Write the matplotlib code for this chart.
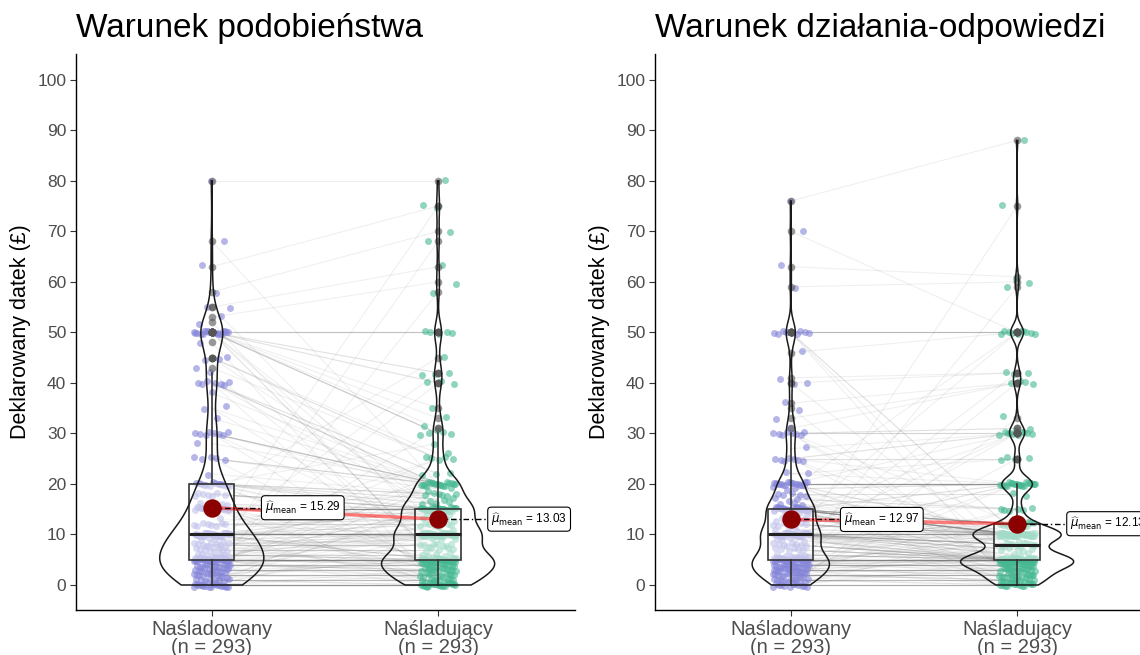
import numpy as np
import matplotlib
matplotlib.use("Agg")
import matplotlib.pyplot as plt
from matplotlib.collections import LineCollection

plt.rcParams['font.family'] = ['Liberation Sans', 'DejaVu Sans']

titles = ["Warunek podobieństwa", "Warunek działania-odpowiedzi"]
groups = ["Naśladowany", "Naśladujący"]
n_text = "(n = 293)"
y_label = "Deklarowany datek (£)"

# declared donations, value -> number of participants (read off the jittered points)
# panel 1, imitated
pod_a_vals = [0, 1, 2, 3, 4, 5, 6, 7, 8, 9, 10, 12, 13, 15, 16, 18, 20, 22,
              25, 28, 30, 33, 35, 38, 40, 42, 43, 45, 48, 50, 52, 53, 55, 58, 63, 68, 80]
pod_a_counts = [20, 10, 12, 12, 12, 40, 8, 8, 10, 4, 40, 8, 1, 22, 4, 7, 14, 1,
                5, 1, 8, 1, 2, 1, 7, 1, 1, 4, 1, 20, 1, 1, 2, 1, 1, 1, 1]
# panel 1, imitating
pod_b_vals = [0, 1, 2, 3, 4, 5, 6, 7, 8, 9, 10, 11, 12, 13, 14, 15, 16, 17, 18, 19,
              20, 22, 25, 26, 28, 30, 31, 33, 35, 40, 42, 45, 50, 58, 60, 63, 68, 70, 75, 80]
pod_b_counts = [22, 10, 12, 13, 13, 40, 5, 5, 8, 3, 40, 2, 8, 4, 3, 33, 3, 3, 6, 2,
                20, 3, 5, 1, 1, 4, 2, 1, 1, 3, 3, 1, 5, 1, 1, 1, 1, 1, 2, 1]
# panel 2, imitated
dzi_a_vals = [0, 1, 2, 3, 4, 5, 6, 7, 8, 9, 10, 11, 12, 13, 14, 15, 16, 17, 18, 19,
              20, 22, 25, 27, 30, 31, 33, 35, 36, 40, 41, 46, 50, 59, 63, 70, 76]
dzi_a_counts = [12, 12, 14, 16, 16, 35, 6, 6, 8, 4, 40, 3, 8, 4, 3, 34, 3, 3, 5, 3,
                18, 2, 7, 1, 8, 1, 1, 1, 1, 2, 1, 1, 10, 1, 1, 1, 1]
# panel 2, imitating
dzi_b_vals = [0, 1, 2, 3, 4, 5, 6, 7, 8, 9, 10, 12, 15, 18, 20, 25, 30, 31, 33, 40,
              42, 50, 59, 60, 61, 75, 88]
dzi_b_counts = [15, 12, 14, 15, 14, 60, 4, 5, 12, 2, 55, 15, 6, 2, 23, 4, 10, 2, 1, 4,
                3, 10, 1, 1, 1, 1, 1]

panels = [
    (titles[0], (pod_a_vals, pod_a_counts), (pod_b_vals, pod_b_counts)),
    (titles[1], (dzi_a_vals, dzi_a_counts), (dzi_b_vals, dzi_b_counts)),
]

point_colors = ['#8585DA', '#45B892']


def kde(v):
    n = len(v)
    q1, q3 = np.percentile(v, [25, 75])
    bw = 0.9 * min(v.std(ddof=1), (q3 - q1) / 1.34) * n ** -0.2
    grid = np.linspace(v.min(), v.max(), 512)
    d = np.exp(-0.5 * ((grid[:, None] - v[None, :]) / bw) ** 2).sum(1)
    d = d / (n * bw * np.sqrt(2 * np.pi))
    return grid, d


fig = plt.figure(figsize=(11.4, 6.55), dpi=100)
ax_w, ax_h, ax_b = 499 / 1140, 556 / 655, 45 / 655
lefts = [76 / 1140, 655 / 1140]

for k, (title, a, b) in enumerate(panels):
    ax = fig.add_axes([lefts[k], ax_b, ax_w, ax_h])
    data = [np.repeat(a[0], a[1]).astype(float), np.repeat(b[0], b[1]).astype(float)]
    n = len(data[0])
    pos = [1, 2]

    # pairing: rank matched, every third participant reshuffled
    idx = np.arange(n)
    partner = idx.copy()
    sub = idx[idx % 3 == 0]
    j = np.arange(len(sub))
    partner[sub] = sub[(j * 31 + 17 + 11 * k) % len(sub)]
    segs = [[(1, data[0][i]), (2, data[1][partner[i]])] for i in idx]
    ax.add_collection(LineCollection(segs, colors='gray', alpha=0.12, lw=0.8, zorder=1))

    # jittered points
    for g in range(2):
        jx = (((idx + 0.37 * g) * 0.6180339887) % 1 - 0.5) * 0.16
        jy = (((idx + 0.21 * g) * 0.7548776662) % 1 - 0.5) * 0.8
        ax.scatter(pos[g] + jx, data[g] + jy, s=25, color=point_colors[g],
                   alpha=0.6, lw=0, zorder=2)

    # boxes
    ax.boxplot(data, positions=pos, widths=0.2, patch_artist=True, showcaps=False,
               boxprops=dict(facecolor=(1, 1, 1, 0.5), edgecolor='#333333', lw=1.2),
               whiskerprops=dict(color='#333333', lw=1.2),
               medianprops=dict(color='#222222', lw=2.2),
               flierprops=dict(marker='o', markerfacecolor='#555555', markeredgecolor='none',
                               alpha=0.6, markersize=5.5),
               zorder=3, manage_ticks=False)

    # violins (area scaled)
    dens = [kde(v) for v in data]
    dmax = max(d.max() for _, d in dens)
    for g in range(2):
        grid, d = dens[g]
        hw = d / dmax * 0.25
        xs = np.concatenate([pos[g] - hw, (pos[g] + hw)[::-1]])
        ys = np.concatenate([grid, grid[::-1]])
        ax.fill(xs, ys, fill=False, edgecolor='#1a1a1a', lw=1.1, zorder=4)

    # means
    means = [v.mean() for v in data]
    ax.plot(pos, means, color='red', alpha=0.5, lw=2.5, zorder=5)
    for g in range(2):
        ax.plot([pos[g], pos[g] + 0.235], [means[g], means[g]], color='black',
                lw=1, ls=(0, (4, 2, 1, 2)), zorder=6)
        ax.scatter(pos[g], means[g], s=150, color='#8B0000', zorder=7)
        ax.text(pos[g] + 0.235, means[g],
                r'$\widehat{\mu}_{\mathrm{mean}}$' + ' = {:.2f}'.format(means[g]),
                fontsize=8.5, ha='left', va='center', zorder=8,
                bbox=dict(boxstyle='round,pad=0.3', fc='white', ec='black', lw=0.8))

    ax.set_xlim(0.40, 2.605)
    ax.set_ylim(-4.95, 105.1)
    ax.set_yticks(range(0, 101, 10))
    ax.set_xticks(pos)
    ax.set_xticklabels([gname + "\n" + n_text for gname in groups], fontsize=14.5,
                       color='#4D4D4D', linespacing=0.95)
    ax.tick_params(axis='y', labelsize=12.5, labelcolor='#4D4D4D')
    ax.tick_params(axis='both', color='#333333', length=4, width=0.8, pad=3)
    for s in ['top', 'right']:
        ax.spines[s].set_visible(False)
    for s in ['left', 'bottom']:
        ax.spines[s].set_linewidth(1)
    ax.set_ylabel(y_label, fontsize=15.5)
    ax.yaxis.set_label_coords(-0.09, 0.5)
    ax.set_title(title, loc='left', fontsize=24, pad=12)

fig.savefig("out.png", dpi=100)
